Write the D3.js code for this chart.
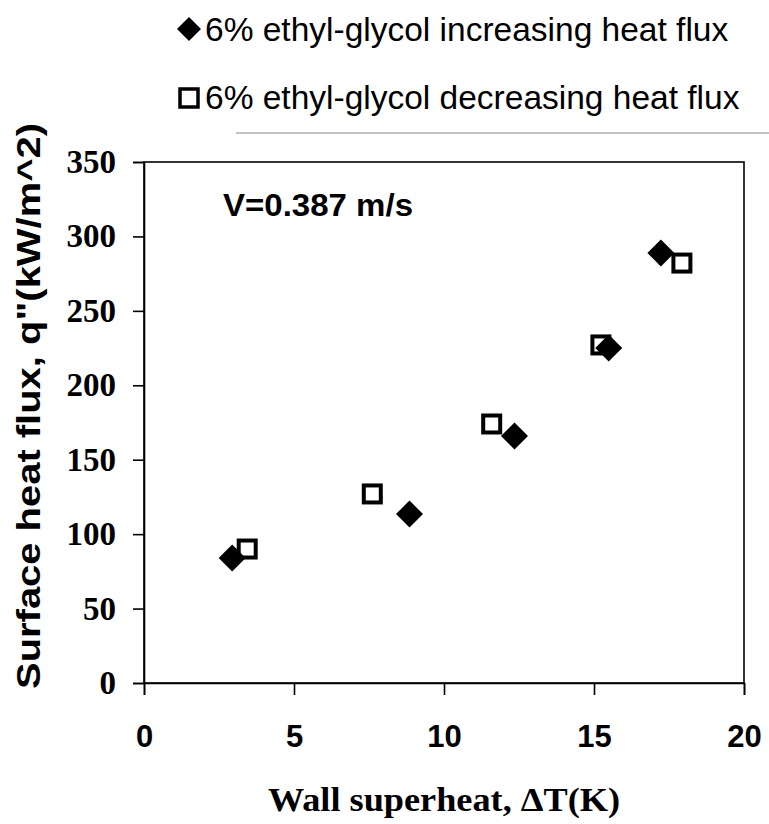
<!DOCTYPE html>
<html>
<head>
<meta charset="utf-8">
<script src="https://cdn.jsdelivr.net/npm/d3@7"></script>
<style>
  html, body { margin: 0; padding: 0; background: #fff; }
  svg { display: block; }
</style>
</head>
<body>
<svg id="chart" width="769" height="824"></svg>
<script>
// Boiling curve: wall superheat vs surface heat flux, 6% ethyl-glycol, V = 0.387 m/s
const increasingDT = [2.94, 8.85, 12.35, 15.49, 17.23];
const increasingQ  = [84.0, 113.5, 165.9, 225.0, 288.9];
const decreasingDT = [3.44, 7.61, 11.59, 15.23, 17.93];
const decreasingQ  = [90.0, 127.0, 174.0, 227.1, 282.1];

const xTicks = [0, 5, 10, 15, 20];
const yTicks = [0, 50, 100, 150, 200, 250, 300, 350];

const legendLabels = [
  "6% ethyl-glycol increasing heat flux",
  "6% ethyl-glycol decreasing heat flux"
];

const svg = d3.select("#chart");
const plotL = 144, plotR = 744, plotT = 162, plotB = 683;

const x = d3.scaleLinear().domain([0, 20]).range([plotL, plotR]);
const y = d3.scaleLinear().domain([0, 350]).range([plotB, plotT]);

// Frame around the plotting area
svg.append("rect")
  .attr("x", plotL).attr("y", plotT)
  .attr("width", plotR - plotL).attr("height", plotB - plotT)
  .attr("fill", "none").attr("stroke", "#000").attr("stroke-width", 1.6);

// Faint rule under the legend
svg.append("line")
  .attr("x1", 236).attr("x2", 769).attr("y1", 133).attr("y2", 133)
  .attr("stroke", "#888").attr("stroke-width", 1.2);

// X axis
const xAxis = svg.append("g")
  .attr("transform", `translate(0,${plotB})`)
  .call(d3.axisBottom(x).tickValues(xTicks).tickSize(12).tickPadding(30).tickFormat(d3.format("d")));
xAxis.select(".domain").attr("stroke-width", 1.6);
xAxis.selectAll(".tick line").attr("stroke-width", 1.6);
xAxis.selectAll(".tick text")
  .attr("font-family", "Arial, 'Liberation Sans', sans-serif")
  .attr("font-weight", "bold").attr("font-size", 31).attr("fill", "#000");

// Y axis
const yAxis = svg.append("g")
  .attr("transform", `translate(${plotL},0)`)
  .call(d3.axisLeft(y).tickValues(yTicks).tickSize(11).tickPadding(17).tickFormat(d3.format("d")));
yAxis.select(".domain").attr("stroke-width", 1.6);
yAxis.selectAll(".tick line").attr("stroke-width", 1.6);
yAxis.selectAll(".tick text")
  .attr("font-family", "'Times New Roman', 'Liberation Serif', serif")
  .attr("font-weight", "bold").attr("font-size", 33).attr("fill", "#000");

// Axis titles
svg.append("text")
  .attr("x", 444).attr("y", 811)
  .attr("text-anchor", "middle")
  .attr("font-family", "'Times New Roman', 'Liberation Serif', serif")
  .attr("font-weight", "bold").attr("font-size", 34)
  .attr("textLength", 352).attr("lengthAdjust", "spacingAndGlyphs")
  .text("Wall superheat, \u0394T(K)");

svg.append("text")
  .attr("transform", "translate(40,406) rotate(-90)")
  .attr("text-anchor", "middle")
  .attr("font-family", "Arial, 'Liberation Sans', sans-serif")
  .attr("font-weight", "bold").attr("font-size", 34)
  .attr("textLength", 566).attr("lengthAdjust", "spacingAndGlyphs")
  .text("Surface heat flux, q\"(kW/m^2)");

// Velocity annotation
svg.append("text")
  .attr("x", 223).attr("y", 216)
  .attr("font-family", "Arial, 'Liberation Sans', sans-serif")
  .attr("font-weight", "bold").attr("font-size", 31)
  .attr("textLength", 190).attr("lengthAdjust", "spacingAndGlyphs")
  .text("V=0.387 m/s");

// Marker shapes
const diamondPath = r => `M0,${-r}L${r},0L0,${r}L${-r},0Z`;
const sq = 17;

// Decreasing heat flux: open squares
svg.append("g").selectAll("rect")
  .data(decreasingDT.map((d, i) => [d, decreasingQ[i]]))
  .join("rect")
  .attr("x", d => x(d[0]) - sq / 2).attr("y", d => y(d[1]) - sq / 2)
  .attr("width", sq).attr("height", sq)
  .attr("fill", "#fff").attr("stroke", "#000").attr("stroke-width", 4);

// Increasing heat flux: filled diamonds
svg.append("g").selectAll("path")
  .data(increasingDT.map((d, i) => [d, increasingQ[i]]))
  .join("path")
  .attr("transform", d => `translate(${x(d[0])},${y(d[1])})`)
  .attr("d", diamondPath(13.5))
  .attr("fill", "#000");

// Legend
const legend = svg.append("g");
legend.append("path")
  .attr("transform", "translate(189,29)")
  .attr("d", diamondPath(12))
  .attr("fill", "#000");
legend.append("rect")
  .attr("x", 180).attr("y", 89).attr("width", 18).attr("height", 18)
  .attr("fill", "#fff").attr("stroke", "#000").attr("stroke-width", 3.5);

legend.selectAll("text")
  .data(legendLabels)
  .join("text")
  .attr("x", 205).attr("y", (d, i) => 41 + i * 68)
  .attr("font-family", "Arial, 'Liberation Sans', sans-serif")
  .attr("font-size", 33.5)
  .attr("fill", "#000")
  .text(d => d);
</script>
</body>
</html>
